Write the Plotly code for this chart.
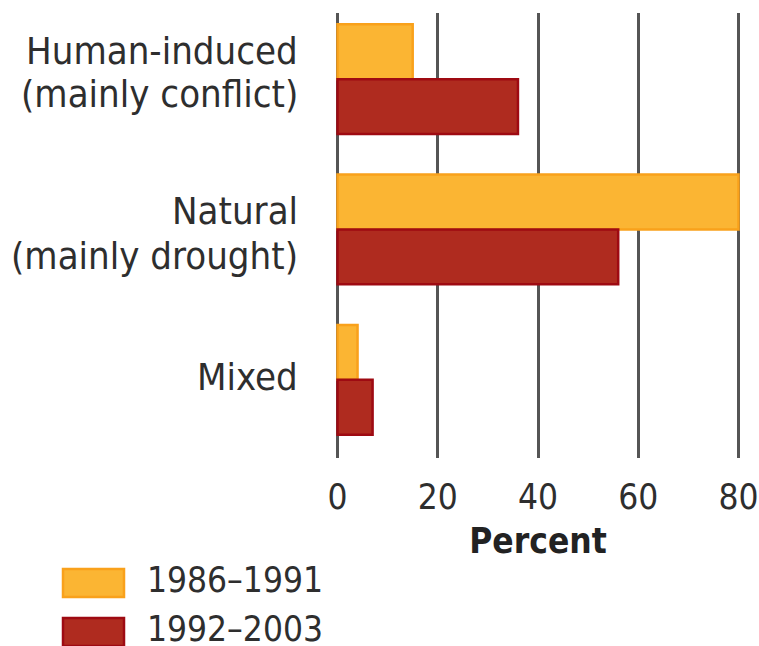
import plotly.graph_objects as go

categories = ["Human-induced", "Natural", "Mixed"]
category_lines = [["Human-induced", "(mainly conflict)"], ["Natural", "(mainly drought)"], ["Mixed"]]
series_names = ["1986\u20131991", "1992\u20132003"]
values_1986_1991 = [15, 80, 4]
values_1992_2003 = [36, 56, 7]
x_ticks = [0, 20, 40, 60, 80]

fill_colors = ["#FBB533", "#AF2B1F"]
line_colors = ["#F9A11B", "#9E0A12"]
FONT = "DejaVu Sans Condensed, DejaVu Sans, sans-serif"
LABEL_FS = 38
TICK_FS = 35
TEXT_COLOR = "#2e2e2e"

fig = go.Figure()
for name, vals, fc, lc in zip(series_names, [values_1986_1991, values_1992_2003], fill_colors, line_colors):
    fig.add_trace(go.Bar(
        y=categories, x=vals, name=name, orientation="h",
        marker=dict(color=fc, line=dict(color=lc, width=2.5)),
        showlegend=False, hoverinfo="skip",
    ))

W, H = 759, 646
L, R, T, B = 336, 19, 13, 188
PW, PH = W - L - R, H - T - B
fig.update_layout(
    width=W, height=H,
    margin=dict(l=L, r=R, t=T, b=B, autoexpand=False),
    barmode="group", bargap=0.27, bargroupgap=0.0,
    paper_bgcolor="white", plot_bgcolor="white",
    font=dict(family=FONT, size=TICK_FS, color=TEXT_COLOR),
    xaxis=dict(
        range=[-0.3, 80.3], tickvals=x_ticks, ticktext=[str(v) for v in x_ticks],
        showgrid=True, gridcolor="#555555", gridwidth=2.5,
        zeroline=False, showline=False, ticks="", automargin=False,
        tickfont=dict(size=TICK_FS, color=TEXT_COLOR),
        ticklabelstandoff=15,
        title=dict(text="Percent", font=dict(size=TICK_FS, color="#222222", weight="bold"), standoff=12),
    ),
    yaxis=dict(
        categoryorder="array", categoryarray=categories,
        range=[2.52, -0.44], automargin=False,
        showgrid=False, zeroline=False, showline=False, ticks="",
        showticklabels=False,
    ),
)

# category labels as right-aligned lines (pixel offsets from each group centre)
label_offsets = [[28, -15], [18, -27], [3]]
for cat, lines, offs in zip(categories, category_lines, label_offsets):
    for line, off in zip(lines, offs):
        fig.add_annotation(xref="paper", yref="y", x=-36 / PW, y=cat,
                           text=line, showarrow=False, xanchor="right", yanchor="middle",
                           yshift=off, font=dict(size=LABEL_FS, color=TEXT_COLOR, family=FONT))

# legend drawn manually (wide swatches)
swatch_y = [583, 632]
text_y = [580, 629]
for name, fc, lc, ys, yt in zip(series_names, fill_colors, line_colors, swatch_y, text_y):
    fig.add_shape(type="rect", xref="paper", yref="paper",
                  x0=(63 - L) / PW, x1=(124 - L) / PW,
                  y0=(H - B - (ys + 14)) / PH, y1=(H - B - (ys - 14)) / PH,
                  fillcolor=fc, line=dict(color=lc, width=2.5))
    fig.add_annotation(xref="paper", yref="paper",
                       x=(145 - L) / PW, y=(H - B - yt) / PH,
                       text=name, showarrow=False, xanchor="left", yanchor="middle",
                       font=dict(size=TICK_FS, color=TEXT_COLOR, family=FONT))

fig.write_html("out.html", config={"displayModeBar": False},
               post_script="document.body.style.margin='0';document.body.style.overflow='hidden';")
